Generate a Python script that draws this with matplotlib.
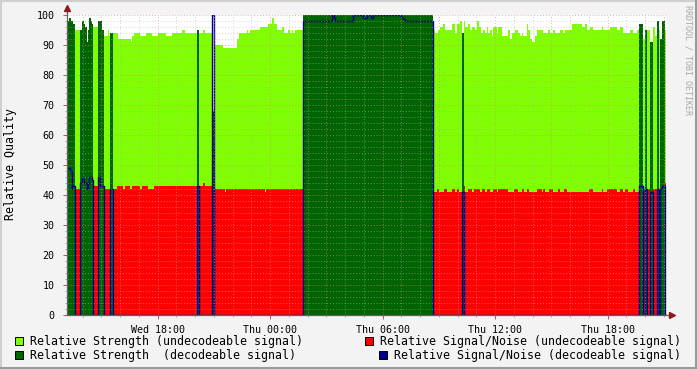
import numpy as np
import matplotlib
matplotlib.use("Agg")
import matplotlib.pyplot as plt
from matplotlib.patches import Rectangle
from matplotlib.lines import Line2D

# time axis: hours since Wed 00:00
t_start, t_stop = 13.163, 45.163
data_end = 45.13

# signal strength, step values starting at each time
strength_t = [13.16, 13.29, 13.36, 13.47, 13.50, 13.59, 13.86, 13.96, 14.07, 14.14,
              14.21, 14.28, 14.35, 14.43, 14.50, 14.53, 14.82, 15.01, 15.14, 15.37,
              15.40, 15.46, 15.60, 15.88, 16.55, 16.63, 16.74, 17.06, 17.38, 17.70,
              18.02, 18.44, 18.76, 19.30, 19.46, 20.08, 20.20, 20.40, 20.52, 20.87,
              20.98, 21.50, 22.21, 22.33, 22.74, 22.83, 22.92, 23.46, 23.90, 24.08,
              24.20, 24.35, 24.61, 24.74, 24.97, 25.06, 25.15, 25.23, 25.32, 25.77,
              32.67, 32.79, 32.97, 33.06, 33.23, 33.32, 33.71, 33.86, 33.98, 34.12,
              34.21, 34.34, 34.39, 34.57, 34.66, 34.75, 34.92, 35.01, 35.15, 35.23,
              35.37, 35.46, 35.55, 35.63, 35.72, 35.81, 35.90, 36.08, 36.17, 36.35,
              36.70, 36.79, 36.88, 37.06, 37.23, 37.32, 37.41, 37.50, 37.68, 37.77,
              37.86, 37.95, 38.12, 38.21, 38.57, 38.83, 38.92, 39.10, 39.19, 39.46,
              39.63, 39.72, 40.08, 40.61, 40.79, 40.91, 41.06, 41.23, 41.68, 41.77,
              42.12, 42.48, 42.66, 42.83, 43.19, 43.37, 43.55, 43.67, 43.87, 43.97,
              44.10, 44.26, 44.41, 44.53, 44.62, 44.72, 44.77, 44.92, 45.06]
strength_v = [98, 99, 98, 95, 97, 95, 95, 98, 97, 96,
              91, 95, 99, 98, 97, 96, 98, 95, 93, 95,
              93, 94, 94, 92, 91, 93, 94, 93, 94, 93,
              94, 93, 94, 95, 94, 95, 94, 95, 94, 68,
              90, 89, 92, 94, 95, 94, 95, 96, 97, 99,
              97, 95, 96, 94, 95, 94, 95, 94, 95, 100,
              95, 94, 95, 96, 97, 95, 97, 94, 97, 98,
              94, 98, 96, 97, 95, 96, 95, 98, 96, 94,
              95, 94, 96, 94, 95, 93, 96, 94, 96, 93,
              95, 92, 94, 95, 94, 93, 94, 93, 97, 95,
              92, 91, 93, 95, 94, 95, 94, 95, 94, 95,
              94, 95, 97, 96, 97, 95, 96, 95, 96, 95,
              96, 95, 96, 94, 95, 94, 95, 97, 92, 95,
              95, 91, 96, 93, 98, 95, 92, 98, 95]

# signal / noise, step values starting at each time
snr_t = [13.16, 13.32, 13.41, 13.45, 13.59, 13.86, 13.95, 14.00, 14.07, 14.21,
         14.28, 14.35, 14.48, 14.53, 14.82, 14.92, 15.14, 15.46, 15.60, 15.81,
         16.17, 16.24, 16.53, 16.62, 17.06, 17.16, 17.50, 17.78, 20.40, 20.52,
         20.87, 20.98, 21.60, 21.65, 23.73, 23.78, 25.77, 27.28, 27.40, 27.46,
         28.43, 28.96, 29.14, 29.36, 29.46, 30.96, 31.07, 31.19, 32.67, 32.88,
         33.00, 33.27, 33.41, 33.68, 33.86, 33.98, 34.08, 34.34, 34.39, 34.57,
         34.75, 34.87, 35.19, 35.28, 35.46, 35.55, 35.72, 35.90, 36.11, 36.17,
         36.70, 37.02, 37.20, 37.41, 37.54, 37.68, 37.82, 38.25, 38.48, 38.53,
         38.66, 38.87, 39.07, 39.37, 39.46, 39.67, 39.81, 41.02, 41.20, 41.68,
         41.73, 41.98, 42.48, 42.66, 42.83, 42.92, 43.07, 43.37, 43.46, 43.67,
         43.87, 44.26, 44.41, 44.92, 45.06]
snr_v = [49, 48, 42, 43, 42, 44, 46, 45, 44, 42,
         44, 46, 45, 43, 46, 43, 42, 42, 42, 43,
         42, 43, 42, 43, 42, 43, 42, 43, 44, 43,
         100, 42, 41, 42, 41, 42, 98, 100, 99, 98,
         100, 99, 100, 99, 100, 99.3, 98.7, 98, 41, 42,
         41, 42, 41, 42, 41, 42, 41, 43, 41, 42,
         41, 42, 41, 42, 41, 42, 41, 42, 41, 42,
         41, 42, 41, 42, 41, 42, 41, 42, 41, 42,
         41, 42, 41, 42, 41, 42, 41, 42, 41, 42,
         41, 42, 41, 42, 41, 42, 41, 42, 41, 43,
         42, 41, 42, 43, 44]

# periods where the signal was decodeable
dec_start = [13.16, 13.86, 14.82, 15.46, 20.08, 20.87, 25.77, 34.21, 43.67, 43.97, 44.26, 44.62, 44.77]
dec_end = [13.59, 14.53, 15.14, 15.60, 20.20, 20.98, 32.67, 34.34, 43.87, 44.10, 44.41, 44.72, 45.06]

tick_pos = [18, 24, 30, 36, 42]
tick_labels = ["Wed 18:00", "Thu 00:00", "Thu 06:00", "Thu 12:00", "Thu 18:00"]

legend_items = ["Relative Strength (undecodeable signal)",
                "Relative Signal/Noise (undecodeable signal)",
                "Relative Strength  (decodeable signal)",
                "Relative Signal/Noise (decodeable signal)"]
c_light, c_red, c_dark, c_blue = "#80ff00", "#ff0000", "#006400", "#00008c"

# combine the step series on one set of edges
edges = np.unique(np.concatenate([strength_t, snr_t, dec_start, dec_end, [data_end]]))
left = edges[:-1]
s = np.array(strength_v, float)[np.searchsorted(strength_t, left + 1e-9, side="right") - 1]
n = np.array(snr_v, float)[np.searchsorted(snr_t, left + 1e-9, side="right") - 1]
dec = np.zeros(len(left), bool)
for a, b in zip(dec_start, dec_end):
    dec |= (left >= a - 1e-6) & (left < b - 1e-6)


def close(y):
    return np.append(y, y[-1])


W, H = 697, 369
bg = "#f3f3f3"
fig = plt.figure(figsize=(W / 100, H / 100), dpi=100, facecolor=bg)
ax = fig.add_axes([67 / W, 54 / H, 600 / W, 300 / H])
ax.set_facecolor("white")

ax.fill_between(edges, 0, close(np.where(dec, 0, s)), step="post", color=c_light, lw=0, zorder=1)
ax.fill_between(edges, 0, close(np.where(dec, 0, n)), step="post", color=c_red, lw=0, zorder=2)
ax.fill_between(edges, 0, close(np.where(dec, s, 0)), step="post", color=c_dark, lw=0, zorder=3)
ax.step(edges, close(np.where(dec, n, 0)), where="post", color=c_blue, lw=1.0, zorder=4)

ax.set_xlim(t_start, t_stop)
ax.set_ylim(0, 100)

# grid on top of the data, rrdtool style
for v in range(2, 100, 2):
    if v % 10:
        ax.axhline(v, color="#b0b0b0", lw=0.7, ls=(0, (1, 2)), alpha=0.55, zorder=5)
for v in range(10, 101, 10):
    ax.axhline(v, color="#e08080", lw=0.7, ls=(0, (1, 2)), alpha=0.65, zorder=6)
for h in range(14, 46):
    if h % 3:
        ax.axvline(h, color="#b0b0b0", lw=0.7, ls=(0, (1, 2)), alpha=0.55, zorder=5)
    else:
        ax.axvline(h, color="#e08080", lw=0.7, ls=(0, (1, 2)), alpha=0.65, zorder=6)

for sp in ax.spines.values():
    sp.set_visible(False)

mono = "DejaVu Sans Mono"
ax.set_xticks(tick_pos, tick_labels, fontsize=7.2, family=mono)
ax.set_yticks(range(0, 101, 10))
ax.set_yticklabels([str(v) for v in range(0, 101, 10)], fontsize=7.2, family=mono)
ax.set_xticks(range(14, 46), minor=True)
ax.set_yticks(range(0, 101, 2), minor=True)
ax.tick_params(axis="both", which="major", length=3, width=0.7, color="#c05050", pad=4)
ax.tick_params(axis="both", which="minor", length=1.5, width=0.6, color="#a0a0a0")
ax.tick_params(axis="y", which="major", pad=6)

# axis lines with arrows
ax.add_line(Line2D([0, 0], [0, 1.012], transform=ax.transAxes, color="#606060", lw=0.9, clip_on=False, zorder=8))
ax.add_line(Line2D([0, 1.003], [0, 0], transform=ax.transAxes, color="#606060", lw=0.9, clip_on=False, zorder=8))
ax.plot([0], [1.022], marker="^", ms=4.5, color="#8c1a1a", transform=ax.transAxes, clip_on=False, zorder=9)
ax.plot([1.009], [0], marker=">", ms=4.5, color="#8c1a1a", transform=ax.transAxes, clip_on=False, zorder=9)

fig.text(11 / W, 1 - 164 / H, "Relative Quality", rotation=90, ha="center", va="center",
         fontsize=8.4, family=mono, color="black")
fig.text(688 / W, 1 - 5 / H, "RRDTOOL / TOBI OETIKER", rotation=270, ha="center", va="top",
         fontsize=6, family=mono, color="#a8a8a8")

# legend, drawn in pixel positions
colors = [c_light, c_red, c_dark, c_blue]
box_x = [15, 365, 15, 379]
text_x = [30, 380, 30, 394]
row_y = [341, 341, 355, 355]
for label, col, bx, tx, ry in zip(legend_items, colors, box_x, text_x, row_y):
    fig.add_artist(Rectangle((bx / W, 1 - (ry + 4) / H), 8 / W, 8 / H, transform=fig.transFigure,
                             facecolor=col, edgecolor="black", lw=0.7))
    fig.text(tx / W, 1 - ry / H, label, ha="left", va="center", fontsize=8.4, family=mono)

# 3d style outer frame
fig.add_artist(Line2D([0, 1], [1 - 1 / H, 1 - 1 / H], transform=fig.transFigure, color="#cfcfcf", lw=1.5))
fig.add_artist(Line2D([1 / W, 1 / W], [0, 1], transform=fig.transFigure, color="#cfcfcf", lw=1.5))
fig.add_artist(Line2D([0, 1], [1 / H, 1 / H], transform=fig.transFigure, color="#9a9a9a", lw=1.5))
fig.add_artist(Line2D([1 - 1 / W, 1 - 1 / W], [0, 1], transform=fig.transFigure, color="#9a9a9a", lw=1.5))

fig.savefig("out.png", dpi=100, facecolor=bg)
